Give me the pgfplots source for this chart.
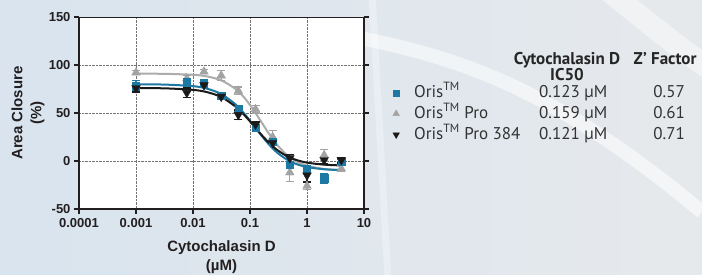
\documentclass[border=0pt]{standalone}
\usepackage{fontspec}
\setmainfont{Liberation Sans}
\newfontfamily\legfont{PT Sans}
\usepackage{pgfplots}
\usepackage{pgfplotstable}
\pgfplotsset{compat=1.18}
\definecolor{orisblue}{HTML}{1E78A4}
\definecolor{orisgray}{HTML}{A3A3A3}
\definecolor{orisblack}{HTML}{1A1A1A}
\definecolor{bgL}{HTML}{D9E4EE}
\definecolor{bgR}{HTML}{E6E9EC}
\definecolor{txt}{HTML}{231F20}

\pgfplotstableread{
x y e
0.001 78 6
0.0078 82 4
0.0156 81 3
0.03125 68 3
0.0625 54 3
0.125 35 3
0.25 20 3
0.5 -4 3
1 -9 4
2 -18 5
4 -1 3
}\oris
\pgfplotstableread{
x y e
0.001 92 2
0.0078 86 3
0.0156 93 2
0.03125 89 5
0.0625 73 4
0.125 54 4
0.25 25 7
0.5 -12 9
1 -26 4
2 6 6
4 -8 3
}\orispro
\pgfplotstableread{
x y e
0.001 76 4
0.0078 71 5
0.0156 79 2
0.03125 67 2
0.0625 48 5
0.125 38 3
0.25 19 3
0.5 3 4
1 -15 7
2 1 4
4 1 3
}\orisprofour
\pgfplotstableread{
x yk yb yg
0.001 75.9 79.9 91.0
0.003162 75.7 79.6 90.8
0.01 74.1 78.0 89.8
0.01778 71.7 75.3 88.1
0.03162 66.5 69.6 83.9
0.05623 56.5 58.8 74.9
0.07943 47.9 49.3 66.0
0.1 41.3 41.9 58.4
0.1259 34.3 34.2 49.8
0.1585 27.4 26.6 40.6
0.1995 21.0 19.4 31.4
0.2512 15.3 13.0 22.8
0.3162 10.5 7.6 15.2
0.4467 5.0 1.4 6.2
0.631 1.3 -2.9 0.0
1 -1.7 -6.3 -4.9
1.995 -3.8 -8.6 -8.3
4 -4.6 -9.5 -9.4
}\fits

\begin{document}
\begin{tikzpicture}[x=1pt,y=1pt]
\shade[left color=bgL,right color=bgR] (0,0) rectangle (702,274);
\useasboundingbox (0,0) rectangle (702,274);
\draw[white,opacity=0.55,line width=14pt] (360,236) .. controls (470,214) and (560,180) .. (702,62);
\draw[white,opacity=0.45,line width=22pt] (610,282) .. controls (650,250) and (680,225) .. (710,205);
\draw[white,opacity=0.3,line width=7pt] (372,280) -- (388,-5);

\begin{axis}[
  at={(79pt,65pt)}, anchor=south west,
  scale only axis, width=285pt, height=192pt,
  xmode=log, xmin=1e-4, xmax=10, ymin=-50, ymax=150,
  axis x line*=bottom, axis y line*=box,
  xtick={1e-4,1e-3,1e-2,1e-1,1,10},
  xticklabels={0.0001,0.001,0.01,0.1,1,10},
  ytick={-50,0,50,100,150},
  minor tick style={draw=none},
  axis background/.style={fill=white},
  grid=major, grid style={densely dotted, black!55, line width=0.6pt},
  axis line style={line width=1.8pt, txt},
  tick style={line width=1.4pt, txt},
  tick align=outside, major tick length=5pt,
  /pgf/number format/assume math mode=true,
  ticklabel style={font=\fontsize{13}{13}\selectfont\bfseries, text=txt},
  xticklabel style={yshift=-1pt},
  xlabel={Cytochalasin D\\(µM)},
  ylabel={Area Closure\\(\%)},
  every axis x label/.style={at={(axis description cs:0.5,-0.252)}, anchor=center, align=center, font=\fontsize{15}{19}\selectfont\bfseries, text=txt},
  every axis y label/.style={at={(axis description cs:-0.179,0.5)}, rotate=90, anchor=center, align=center, font=\fontsize{15}{19}\selectfont\bfseries, text=txt},
  extra description/.code={\draw[line width=0.8pt, txt] (rel axis cs:0,1) -- (rel axis cs:1,1);},
  clip=false,
  legend style={at={(axis description cs:1.0947,0.651)}, anchor=north west, draw=none, fill=none, inner sep=0pt, row sep=4pt, column sep=13pt,
    nodes={inner sep=0pt, text height=13pt, text depth=4pt},
    font=\legfont\fontsize{17}{18}\selectfont, text=black!80, legend cell align=left},
  legend image code/.code={\path[draw=none,fill=none] (-5pt,-3pt) rectangle (5pt,3pt); \draw[#1] plot coordinates {(0pt,0pt)};},
]
% fits
\addplot[orisgray!90, line width=2pt, smooth, forget plot] table[x=x,y=yg] {\fits};
\addplot[orisblue, line width=2pt, smooth, forget plot] table[x=x,y=yb] {\fits};
\addplot[orisblack, line width=2pt, smooth, forget plot] table[x=x,y=yk] {\fits};
% data
\addplot[only marks, mark=triangle*, mark size=5pt, color=orisgray, forget plot,
  error bars/.cd, y dir=both, y explicit, error bar style={line width=1.3pt}, error mark options={rotate=90, mark size=4pt, line width=1.3pt}]
  table[x=x,y=y,y error=e] {\orispro};
\addplot[only marks, mark=square*, mark size=3.6pt, color=orisblue, forget plot,
  error bars/.cd, y dir=both, y explicit, error bar style={line width=1.3pt}, error mark options={rotate=90, mark size=4pt, line width=1.3pt}]
  table[x=x,y=y,y error=e] {\oris};
\addplot[only marks, mark=triangle*, mark options={rotate=180}, mark size=5pt, color=orisblack, forget plot,
  error bars/.cd, y dir=both, y explicit, error bar style={line width=1.3pt}, error mark options={rotate=90, mark size=4pt, line width=1.3pt}]
  table[x=x,y=y,y error=e] {\orisprofour};
% legend
\addlegendimage{only marks, mark=square*, mark size=3pt, color=orisblue}
\addlegendentry{\makebox[119pt][l]{Oris\textsuperscript{TM}}\makebox[80pt][c]{0.123 µM}\hspace*{56pt}\makebox[0pt][c]{0.57}}
\addlegendimage{only marks, mark=triangle*, mark size=3.8pt, color=orisgray}
\addlegendentry{\makebox[119pt][l]{Oris\textsuperscript{TM} Pro}\makebox[80pt][c]{0.159 µM}\hspace*{56pt}\makebox[0pt][c]{0.61}}
\addlegendimage{only marks, mark=triangle*, mark options={rotate=180}, mark size=3.8pt, color=orisblack}
\addlegendentry{\makebox[119pt][l]{Oris\textsuperscript{TM} Pro 384}\makebox[80pt][c]{0.121 µM}\hspace*{56pt}\makebox[0pt][c]{0.71}}
\end{axis}
\node[font=\legfont\fontsize{17}{15}\selectfont\bfseries, text=black!85, align=center] at (567,207.5) {Cytochalasin D\\IC50};
\node[font=\legfont\fontsize{17}{15}\selectfont\bfseries, text=black!85] at (665,215) {Z’ Factor};
\end{tikzpicture}
\end{document}
